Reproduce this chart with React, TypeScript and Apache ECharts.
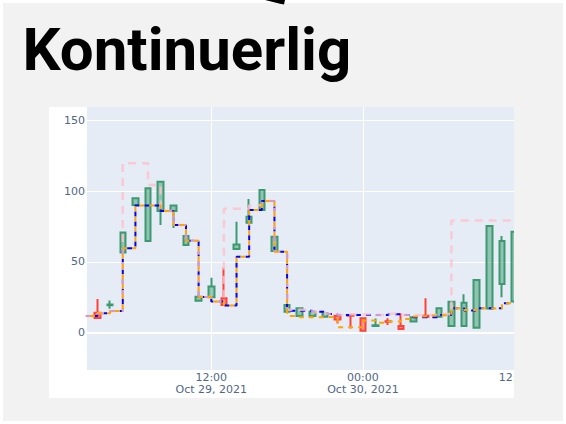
import React, { useEffect, useRef } from "react";
import * as echarts from "echarts";

// hours counted from Oct 29, 2021 00:00
const hours = [2, 3, 4, 5, 6, 7, 8, 9, 10, 11, 12, 13, 14, 15, 16, 17, 18, 19, 20, 21, 22, 23, 24, 25, 26, 27, 28, 29, 30, 31, 32, 33, 34, 35, 36];

const opens = [11, 14.2, 19.5, 56.6, 90.2, 64.8, 86, 86, 62, 22.6, 25, 24.3, 59.1, 77.7, 86.7, 57.7, 14.9, 11.8, 11.8, 11.3, 12, 12.5, 10.2, 4.8, 8.1, 4.7, 7.9, 12, 11.3, 4.7, 4.7, 3.5, 17.2, 34.4, 22];
const closes = [12.5, 10.4, 20, 70.8, 95, 102, 106.7, 89.8, 68.3, 25.5, 32.6, 19.6, 62.4, 81.9, 100.8, 67.8, 19.6, 17.3, 14.9, 13.7, 9.4, 12, 1.5, 5.3, 7.7, 2.6, 10.9, 11.3, 17.3, 21.9, 21.2, 37.2, 75.4, 64.8, 71.4];
const lows = [11, 10.4, 17, 56.6, 90.2, 64.8, 76, 74, 62, 22.6, 25, 19.6, 59.1, 77.7, 86.7, 57.7, 14.9, 11.8, 11.8, 11.3, 6.6, 3, 1.5, 4.8, 5.4, 2.6, 7.9, 11.3, 11.3, 4.7, 4.7, 3.5, 17.2, 25.1, 22];
const highs = [12.5, 23.8, 22.7, 70.8, 95, 102, 106.7, 89.8, 68.3, 25.5, 38.8, 46, 78.4, 94.4, 100.8, 67.8, 19.6, 17.3, 14.9, 13.7, 12, 12.5, 10.2, 10, 10.2, 13.7, 10.9, 24.3, 17.3, 21.9, 27.1, 37.2, 75.4, 68.3, 71.4];

const blueLine = [11.8, 13.8, 15.4, 59.6, 89.8, 89.8, 86, 76, 65, 25.2, 22, 19.2, 53.7, 86.7, 93, 57.2, 15.6, 15.6, 14.9, 13.2, 12.5, 12.5, 12.5, 12.5, 13, 12.5, 11, 11, 12.5, 17.3, 15.7, 17.3, 17.3, 20.8, 20.8];
const orangeLine = [11.8, 13.8, 15.4, 59.6, 89.8, 89.8, 86, 76, 65, 25.2, 22, 19.2, 53.7, 86.7, 93, 57.2, 11.8, 11, 11, 11.3, 3.8, 3.8, 8.6, 7, 7.9, 9.7, 11.5, 12.1, 12.5, 17.3, 16, 17.3, 17, 20.8, 20.8];
const pinkLine = [11.8, 13.8, 15.4, 119.7, 119.7, 104.3, 86, 76, 65, 25.2, 22, 87.5, 87.5, 90, 93, 57.2, 16.2, 16, 14.5, 13.5, 12.5, 13, 13, 12.5, 13.5, 12.5, 12.3, 12.5, 13.3, 79.2, 79.2, 79.2, 79.2, 79.2, 79.2];

const xTickHours = [12, 24, 36];
const xTickLabels = ["12:00\nOct 29, 2021", "00:00\nOct 30, 2021", "12:00"];
const yTicks = [0, 50, 100, 150];

const X_MIN = 2.17;
const X_MAX = 36.03;
const Y_MIN = -26.3;
const Y_MAX = 159.4;

const GRAY = "#f2f2f2";
const TICK_COLOR = "#506784";

export default function App() {
  const ref = useRef<HTMLDivElement>(null);

  useEffect(() => {
    const chart = echarts.init(ref.current!, null, { renderer: "svg", width: 566, height: 424 });

    // candles whose centre lies left of the visible range are outside the plot
    const candleData = hours
      .map((h, i) => [h, opens[i], closes[i], lows[i], highs[i]])
      .filter((d) => d[0] >= X_MIN);
    const stepData = (vals: number[]) => hours.map((h, i) => [h, vals[i]]);

    chart.setOption({
      animation: false,
      backgroundColor: "#ffffff",
      graphic: [
        { type: "rect", z: -10, shape: { x: 3, y: 3, width: 560, height: 418 }, style: { fill: GRAY } },
        { type: "polygon", z: -9, shape: { points: [[265, 0], [285, 0], [284, 4.5], [278, 3.3]] }, style: { fill: "#000" } },
        {
          type: "text",
          z: -9,
          x: 22.5,
          y: 49.5,
          style: {
            text: "Kontinuerlig",
            fontSize: 60,
            fontWeight: "bold",
            fontFamily: "Roboto",
            fill: "#000",
            verticalAlign: "middle",
          },
        },
        { type: "rect", z: -8, shape: { x: 49, y: 107, width: 465, height: 291 }, style: { fill: "#ffffff" } },
        { type: "rect", z: 100, shape: { x: 514, y: 100, width: 49, height: 300 }, style: { fill: GRAY } },
      ],
      grid: {
        left: 87,
        top: 107,
        width: 428,
        height: 263,
        show: true,
        backgroundColor: "#e5ecf6",
        borderWidth: 0,
        containLabel: false,
        outerBoundsMode: "none",
      },
      xAxis: {
        type: "value",
        min: X_MIN,
        max: X_MAX,
        axisLine: { show: false },
        axisTick: { show: false, customValues: xTickHours },
        splitLine: { show: true, lineStyle: { color: "#ffffff", width: 1 } },
        axisLabel: {
          customValues: xTickHours,
          margin: 1,
          fontSize: 11,
          lineHeight: 12,
          fontFamily: "DejaVu Sans",
          color: TICK_COLOR,
          formatter: (v: number) => {
            const i = xTickHours.indexOf(Math.round(v));
            return i >= 0 ? xTickLabels[i] : "";
          },
        },
      },
      yAxis: {
        type: "value",
        min: Y_MIN,
        max: Y_MAX,
        axisLine: { show: false },
        axisTick: { show: false, customValues: yTicks },
        splitLine: { show: true, lineStyle: { color: "#ffffff", width: 1 } },
        axisLabel: {
          customValues: yTicks,
          margin: 2,
          fontSize: 11,
          fontFamily: "DejaVu Sans",
          color: TICK_COLOR,
        },
      },
      series: [
        {
          type: "candlestick",
          data: candleData,
          barWidth: 6,
          clip: true,
          itemStyle: {
            color: "rgba(61,153,112,0.5)",
            color0: "rgba(255,65,54,0.5)",
            borderColor: "#3D9970",
            borderColor0: "#FF4136",
            borderWidth: 2,
          },
          markLine: {
            silent: true,
            symbol: "none",
            label: { show: false },
            lineStyle: { color: "#ffffff", width: 2, type: "solid" },
            data: [{ yAxis: 0 }],
          },
        },
        {
          type: "line",
          data: stepData(blueLine),
          step: "end",
          showSymbol: false,
          symbol: "none",
          clip: true,
          lineStyle: { color: "#0000ff", width: 2, type: [5, 5] },
        },
        {
          type: "line",
          data: stepData(pinkLine),
          step: "end",
          showSymbol: false,
          symbol: "none",
          clip: true,
          lineStyle: { color: "#ffc0cb", width: 2.5, type: [8, 6], opacity: 0.8 },
        },
        {
          type: "line",
          data: stepData(orangeLine),
          step: "end",
          showSymbol: false,
          symbol: "none",
          clip: true,
          lineStyle: { color: "#ffa500", width: 2, type: [5, 5], dashOffset: 5 },
        },
      ],
    });

    return () => chart.dispose();
  }, []);

  return <div ref={ref} style={{ position: "fixed", left: 0, top: 0, width: 566, height: 424 }} />;
}
